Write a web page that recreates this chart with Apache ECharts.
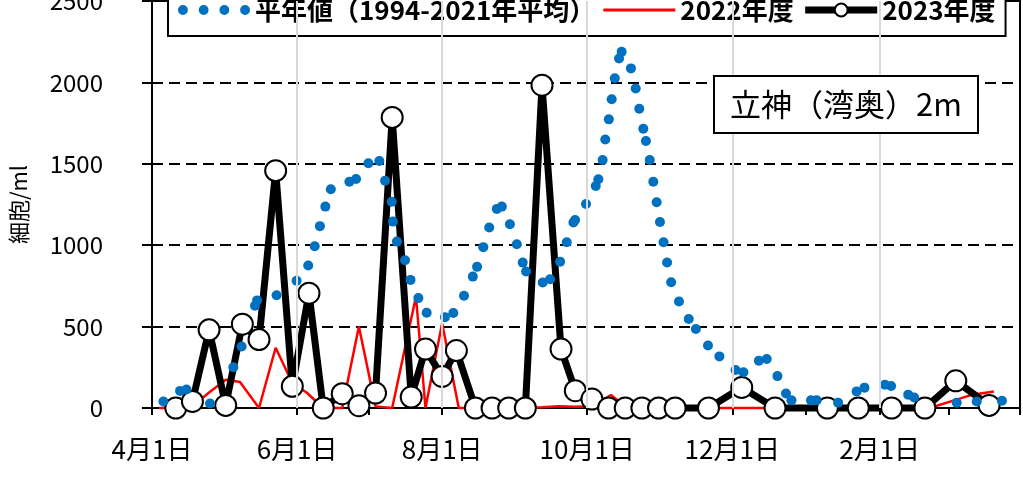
<!DOCTYPE html>
<html>
<head>
<meta charset="utf-8">
<script src="https://cdn.jsdelivr.net/npm/echarts@6/dist/echarts.min.js"></script>
<style>
html, body { margin: 0; padding: 0; background: #fff; }
#main { width: 1023px; height: 489px; }
</style>
</head>
<body>
<div id="main"></div>
<script>
// x = 4月1日からの経過日数
var avgDays = [4.8, 11.8, 14.5, 24.4, 34.2, 37.7, 43.3, 44.2, 52.4, 60.8, 65.7, 68.4, 70.6, 72.9, 75.2,
  83.0, 85.8, 91.0, 95.6, 98.0, 100.8, 101.3, 103.0, 106.4, 108.7, 112.0, 115.5, 123.2, 126.7, 131.2,
  134.9, 136.7, 139.3, 141.8, 145.0, 147.1, 150.5, 153.4, 155.9, 157.3, 164.3, 167.4, 171.6, 174.4, 177.2,
  177.9, 182.5, 186.6, 187.7, 189.5, 190.6, 192.1, 193.3, 194.6, 196.4, 197.5, 201.4, 203.4, 204.9, 206.6,
  207.7, 209.3, 210.8, 212.2, 213.6, 215.1, 216.6, 218.3, 221.6, 225.7, 228.7, 233.8, 238.6, 245.4, 248.7,
  255.2, 258.5, 263.0, 266.6, 268.9, 277.1, 279.5, 288.5, 296.3, 299.6, 308.2, 310.8, 318.0, 320.5, 338.4,
  346.8, 357.4];
var avgValues = [40, 105, 114, 28, 250, 378, 628, 661, 693, 782, 875, 994, 1117, 1237, 1344,
  1390, 1407, 1503, 1517, 1396, 1267, 1145, 1022, 908, 787, 675, 585, 558, 583, 689,
  807, 867, 988, 1109, 1223, 1237, 1129, 1006, 893, 838, 771, 791, 899, 1018, 1139,
  1155, 1253, 1364, 1405, 1523, 1649, 1773, 1896, 2025, 2147, 2188, 2086, 1963, 1838, 1715,
  1640, 1523, 1390, 1264, 1143, 1018, 894, 772, 654, 547, 485, 384, 317, 233, 220,
  291, 301, 196, 89, 47, 47, 48, 33, 102, 125, 143, 135, 82, 64, 33,
  40, 45];

var days2022 = [3, 10, 17, 24, 31, 37, 45, 52, 59, 65, 72, 80, 87, 94, 101, 111, 115, 122, 129, 136,
  143, 150, 157, 164, 171, 178, 185, 193, 199, 206, 220, 240, 260, 280, 300, 325, 330, 338, 345, 354];
var values2022 = [0, 0, 10, 95, 174, 160, 0, 370, 153, 95, 0, 0, 500, 10, 0, 685, 0, 521, 0, 0,
  0, 0, 3, 5, 10, 8, 10, 80, 10, 0, 0, 0, 0, 0, 0, 0, 14, 50, 82, 102];

var days2023 = [10, 17, 24, 31, 38, 45, 52, 59, 66, 72, 80, 87, 94, 101, 109, 115, 122, 128, 136, 143,
  150, 157, 164, 172, 178, 185, 192, 199, 206, 213, 220, 234, 248, 262, 284, 297, 311, 325, 338, 352];
var values2023 = [0, 40, 480, 16, 515, 420, 1458, 133, 705, 0, 88, 14, 92, 1785, 67, 362, 194, 353, 0, 0,
  0, 0, 1983, 362, 106, 55, 0, 0, 0, 0, 0, 0, 126, 0, 0, 0, 0, 0, 167, 16];

var labelDays = [0, 61, 122, 183, 244, 306];
var labelTexts = ['4月1日', '6月1日', '8月1日', '10月1日', '12月1日', '2月1日'];
var monthDays = [0, 30, 61, 91, 122, 153, 183, 214, 244, 275, 306, 335, 365];
var gridDays = [61, 122, 183, 244, 306];

function pairs(xs, ys) {
  return xs.map(function (x, i) { return [x, ys[i]]; });
}

var font = 'Noto Sans CJK JP';
var dotsIcon = 'path://M0 5a5 5 0 1 0 10 0a5 5 0 1 0 -10 0zM21 5a5 5 0 1 0 10 0a5 5 0 1 0 -10 0z' +
  'M42 5a5 5 0 1 0 10 0a5 5 0 1 0 -10 0zM63 5a5 5 0 1 0 10 0a5 5 0 1 0 -10 0z';
var lineIcon = 'path://M0 0H72V3H0Z';

var myChart = echarts.init(document.getElementById('main'));
myChart.setOption({
  animation: false,
  textStyle: { fontFamily: font },
  grid: {
    left: 152, right: 3, top: 1, bottom: 81,
    containLabel: false, outerBoundsMode: 'none',
    show: true, borderColor: '#000', borderWidth: 2
  },
  title: {
    text: '立神（湾奥）2m',
    left: 714, top: 76,
    padding: [13, 16, 13, 16],
    borderColor: '#000', borderWidth: 2,
    backgroundColor: '#fff',
    textStyle: { fontFamily: font, fontSize: 31, fontWeight: 'normal', color: '#000' }
  },
  legend: {
    left: 168, top: -10,
    padding: [5, 10, 11, 10],
    itemGap: 8,
    itemWidth: 72, itemHeight: 16,
    borderColor: '#000', borderWidth: 2,
    backgroundColor: '#fff',
    textStyle: { fontFamily: font, fontSize: 26, fontWeight: 'bold', color: '#000', lineHeight: 30 },
    data: [
      { name: '平年値（1994-2021年平均）', icon: dotsIcon },
      { name: '2022年度', icon: lineIcon },
      { name: '2023年度', lineStyle: { width: 7, color: '#000' } }
    ]
  },
  xAxis: {
    type: 'value', min: 0, max: 365,
    axisLine: { lineStyle: { color: '#000', width: 2 } },
    axisTick: { show: true, customValues: monthDays, length: 7, lineStyle: { color: '#000', width: 2 } },
    axisLabel: {
      customValues: labelDays, margin: 28,
      fontFamily: font, fontSize: 26, color: '#000',
      formatter: function (v) { return labelTexts[labelDays.indexOf(v)]; }
    },
    splitLine: { show: false }
  },
  yAxis: {
    type: 'value', min: 0, max: 2500, interval: 500,
    name: '細胞/ml', nameLocation: 'middle', nameGap: 122,
    nameTextStyle: { fontFamily: font, fontSize: 22, color: '#000' },
    axisLine: { show: true, lineStyle: { color: '#000', width: 2 } },
    axisTick: { show: true, length: 10, lineStyle: { color: '#000', width: 2 } },
    axisLabel: {
      fontFamily: font, fontSize: 24, color: '#000', margin: 49,
      formatter: function (v) { return String(v); }
    },
    splitLine: { show: true, lineStyle: { color: '#000', width: 2, type: [11, 6] } }
  },
  series: [
    {
      name: '平年値（1994-2021年平均）',
      type: 'scatter',
      data: pairs(avgDays, avgValues),
      symbolSize: 10,
      itemStyle: { color: '#0070C0', opacity: 1 },
      z: 4
    },
    {
      name: '2022年度',
      type: 'line',
      data: pairs(days2022, values2022),
      symbol: 'none',
      clip: false,
      lineStyle: { color: '#FF0000', width: 2.5 },
      itemStyle: { color: '#FF0000' },
      markLine: {
        silent: true, symbol: 'none',
        label: { show: false },
        lineStyle: { color: '#D9D9D9', width: 2, type: 'solid' },
        data: gridDays.map(function (d) { return { xAxis: d }; })
      },
      z: 2
    },
    {
      name: '2023年度',
      type: 'line',
      data: pairs(days2023, values2023),
      symbol: 'circle',
      symbolSize: 21,
      clip: false,
      lineStyle: { color: '#000', width: 7 },
      itemStyle: { color: '#fff', borderColor: '#000', borderWidth: 2 },
      z: 3
    }
  ]
});
</script>
</body>
</html>
